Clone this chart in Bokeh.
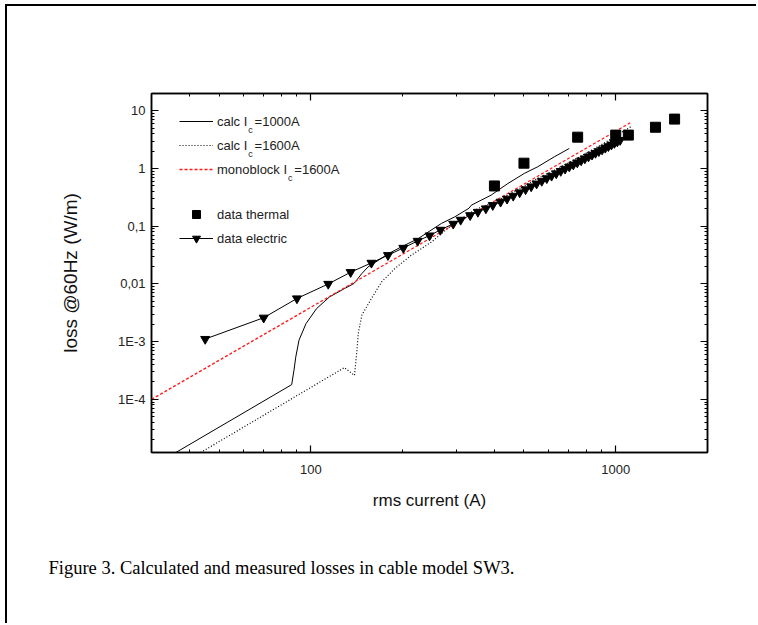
from bokeh.plotting import figure
from bokeh.models import (LogAxis, FixedTicker, CustomJSTickFormatter, Legend,
                          LegendItem, Label, Range1d, Title)
from bokeh.embed import file_html
from bokeh.resources import INLINE

# ---------------- data ----------------
calc1000_x = [34, 86.5, 88, 89.2, 91.4, 96.4, 104.4, 115, 128.8, 138.5, 147, 154,
              180, 198, 225, 268, 296, 330, 336, 390, 443, 501, 554, 629, 704]
calc1000_y = [1.0e-5, 1.8e-4, 3.2e-4, 5.4e-4, 1.06e-3, 2.06e-3, 3.75e-3, 5.95e-3,
              8.3e-3, 1.02e-2, 1.52e-2, 1.97e-2, 3.37e-2, 4.39e-2, 6.13e-2, 0.112,
              0.145, 0.205, 0.232, 0.346, 0.552, 0.822, 1.07, 1.6, 2.23]

calc1600_x = [41, 128.8, 139, 141.6, 143, 147, 158, 170.5, 188.5, 213.5, 249, 289,
              344, 421, 541, 695, 893, 1120]
calc1600_y = [1.0e-5, 3.55e-4, 2.6e-4, 7.1e-4, 1.38e-3, 2.9e-3, 5.6e-3, 1.08e-2,
              1.85e-2, 3.15e-2, 5.36e-2, 0.104, 0.19, 0.30, 0.63, 1.23, 2.55, 5.3]

mono_x = [30, 1120]
mono_y = [1.0e-4, 6.3]

thermal_x = [400, 500, 750, 1000, 1100, 1350, 1560]
thermal_y = [0.50, 1.24, 3.5, 3.8, 3.8, 5.2, 7.2]

electric_x = [45, 70, 90, 114, 135, 158, 179, 201, 224, 245, 266, 293, 310, 333,
              353, 375, 395, 419, 440, 461, 484, 506, 528, 550, 572, 594, 616, 638,
              660, 682, 704, 726, 748, 770, 792, 814, 836, 858, 880, 902, 924, 946,
              968, 990, 1012, 1034]
electric_y = [1.11e-3, 2.6e-3, 5.6e-3, 1.0e-2, 1.6e-2, 2.32e-2, 3.15e-2, 4.21e-2,
              5.57e-2, 6.9e-2, 8.66e-2, 0.110, 0.129, 0.155, 0.177, 0.203, 0.232,
              0.265, 0.299, 0.336, 0.385, 0.435, 0.489, 0.547, 0.609, 0.676, 0.747,
              0.823, 0.904, 0.989, 1.08, 1.17, 1.27, 1.38, 1.49, 1.61, 1.73, 1.86,
              1.99, 2.13, 2.28, 2.43, 2.59, 2.76, 2.93, 3.11]

y_major = [1e-4, 1e-3, 1e-2, 1e-1, 1, 10]
y_labels = {"1": "10", "0": "1", "-1": "0,1", "-2": "0,01", "-3": "1E-3", "-4": "1E-4"}
x_major = [100, 1000]

FONT = "Liberation Sans"

p = figure(width=751, height=619, x_axis_type="log", y_axis_type="log",
           x_range=Range1d(30, 2000), y_range=Range1d(1.2e-5, 20),
           output_backend="svg", toolbar_location=None,
           min_border_left=144, min_border_right=51, min_border_top=87,
           min_border_bottom=173)
p.background_fill_color = "white"
p.border_fill_color = "white"
p.grid.visible = False
p.outline_line_color = "black"
p.outline_line_width = 1.5
p.styles = {"border-top": "2px solid black", "border-left": "2px solid black",
            "margin-left": "5px", "margin-top": "4px"}

x_minor = [k * 10 ** e for e in (1, 2, 3) for k in range(2, 10)]
y_minor = [k * 10 ** e for e in range(-5, 2) for k in range(2, 10)]
xt = FixedTicker(ticks=x_major, minor_ticks=x_minor)
yt = FixedTicker(ticks=y_major, minor_ticks=y_minor)

yfmt = CustomJSTickFormatter(args=dict(m=y_labels), code="""
const e = String(Math.round(Math.log10(tick)));
return (e in m) ? m[e] : "";
""")
xfmt = CustomJSTickFormatter(code="return String(Math.round(tick));")
nofmt = CustomJSTickFormatter(code="return '';")


def style_axis(ax):
    ax.axis_line_color = "black"
    ax.axis_line_width = 1.5
    ax.major_tick_in = 7
    ax.major_tick_out = 0
    ax.minor_tick_in = 3
    ax.minor_tick_out = 0
    ax.major_tick_line_width = 1.2
    ax.minor_tick_line_width = 1
    ax.major_label_text_font = FONT
    ax.major_label_text_font_size = "13px"
    ax.major_label_text_color = "#222222"
    ax.axis_label_text_font = FONT
    ax.axis_label_text_font_style = "normal"
    ax.axis_label_text_font_size = "17px"
    ax.axis_label_text_color = "#111111"


xa = p.xaxis[0]
xa.ticker = xt
xa.formatter = xfmt
style_axis(xa)
xa.axis_label = "rms current (A)"
xa.major_label_standoff = 12
xa.axis_label_standoff = 14

ya = p.yaxis[0]
ya.ticker = yt
ya.formatter = yfmt
style_axis(ya)
ya.axis_label = "loss @60Hz (W/m)"
ya.axis_label_text_font_size = "19px"
ya.major_label_standoff = 6
ya.axis_label_standoff = 34

top = LogAxis(ticker=xt, formatter=nofmt)
style_axis(top)
p.add_layout(top, "above")
right = LogAxis(ticker=yt, formatter=nofmt)
style_axis(right)
p.add_layout(right, "right")

r1 = p.line(calc1000_x, calc1000_y, line_color="black", line_width=1)
r2 = p.line(calc1600_x, calc1600_y, line_color="black", line_width=1.2,
            line_dash="1 2")
r3 = p.line(mono_x, mono_y, line_color="#ff1a1a", line_width=1.3, line_dash="3 2")
r4 = p.scatter(thermal_x, thermal_y, marker="square", size=10, fill_color="black",
               line_color="black")
r5l = p.line(electric_x, electric_y, line_color="black", line_width=1)
r5m = p.scatter(electric_x, electric_y, marker="inverted_triangle", size=9,
                fill_color="black", line_color="black")

leg1 = Legend(items=[LegendItem(label="calc I  =1000A", renderers=[r1]),
                     LegendItem(label="calc I  =1600A", renderers=[r2]),
                     LegendItem(label="monoblock I  =1600A", renderers=[r3])],
              location=(28, 273))
leg2 = Legend(items=[LegendItem(label="data thermal", renderers=[r4]),
                     LegendItem(label="data electric", renderers=[r5l, r5m])],
              location=(28, 204))
for lg in (leg1, leg2):
    lg.border_line_color = None
    lg.background_fill_alpha = 0
    lg.padding = 0
    lg.margin = 0
    lg.spacing = 4
    lg.glyph_width = 34
    lg.glyph_height = 20
    lg.label_height = 20
    lg.label_standoff = 4
    lg.label_text_font = FONT
    lg.label_text_font_size = "13px"
    lg.label_text_color = "#222222"
    p.add_layout(lg, "center")

# subscript "c" in legend labels
for sx, sy in ((96.8, 323), (96.8, 299), (136.5, 275)):
    p.add_layout(Label(x=sx, y=sy, x_units="screen", y_units="screen", text="c",
                       text_font=FONT, text_font_size="9px", text_color="#222222",
                       text_baseline="alphabetic"))

caption = Title(text="Figure 3. Calculated and measured losses in cable model SW3.",
                align="left", offset=-103, standoff=86,
                text_font="Liberation Serif", text_font_size="18.5px",
                text_font_style="normal", text_color="black")
p.add_layout(caption, "below")

open("out.html", "w").write(file_html(p, INLINE))
